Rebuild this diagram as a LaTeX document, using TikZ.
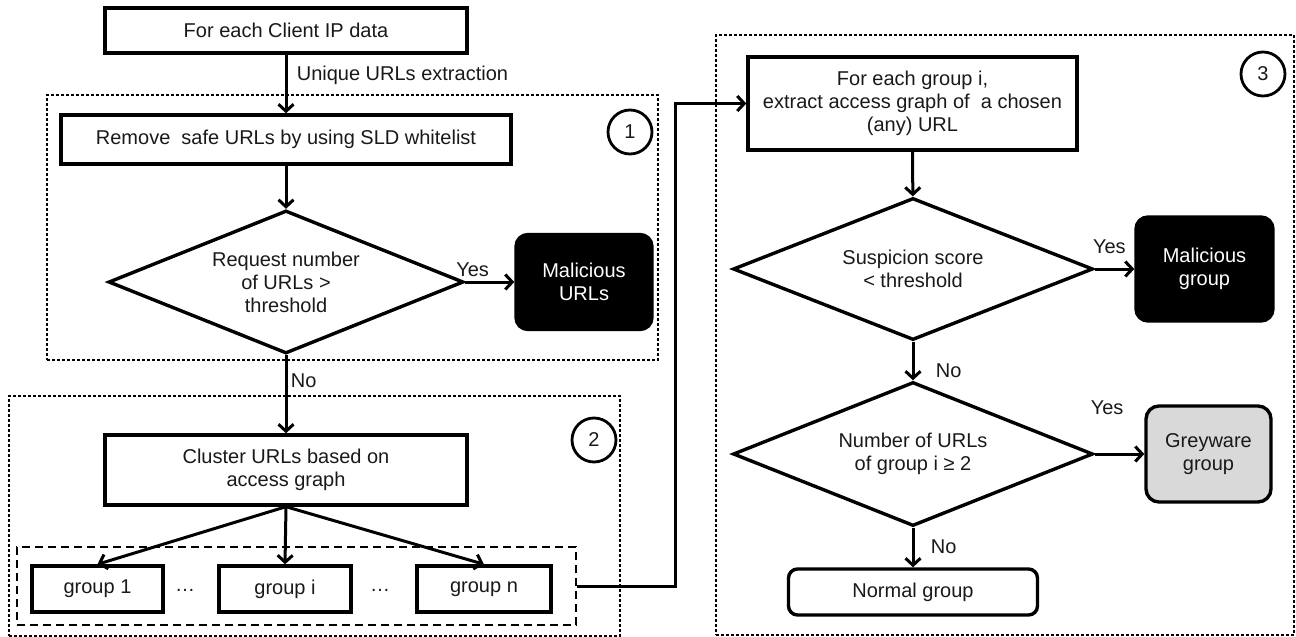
\documentclass[tikz,border=0pt]{standalone}
\usepackage{fontspec}
\setmainfont{Liberation Sans}
\usetikzlibrary{arrows.meta,shapes.geometric}

\begin{document}
\begin{tikzpicture}[x=1pt,y=-1pt,
  >={Straight Barb[length=7pt,width=15pt]},
  font=\fontsize{20}{23}\selectfont,
  every node/.style={align=center,text=black!90},
  proc/.style={draw,line width=3.4pt,inner sep=0pt},
  decision/.style={diamond,aspect=2.5,draw,line width=3.4pt,inner sep=0pt},
  badend/.style={draw,fill=black,text=white,rounded corners=12pt,line width=3.4pt,inner sep=0pt},
  greyend/.style={draw,fill=black!15,rounded corners=13pt,line width=3.4pt,inner sep=0pt},
  okend/.style={draw,rounded corners=9pt,line width=3.4pt,inner sep=0pt},
  region/.style={draw,line width=1.1pt,dash pattern=on 3pt off 2pt,inner sep=0pt},
  setbox/.style={draw,line width=2.4pt,dash pattern=on 8pt off 5pt,inner sep=0pt},
  stagenum/.style={circle,draw,line width=2.8pt,minimum size=44pt,inner sep=0pt},
  flow/.style={->,line width=3pt}]
 \useasboundingbox (0,0) rectangle (1296,637);

 % stage frames
 \node[region,minimum width=611pt,minimum height=265pt] (stage1) at (352.5,227.5) {};
 \node[region,minimum width=611pt,minimum height=240pt] (stage2) at (314.5,516) {};
 \node[region,minimum width=578pt,minimum height=600pt] (stage3) at (1005,335) {};
 \node[stagenum] (n1) at (630,132) {1};
 \node[stagenum] (n2) at (594,440) {2};
 \node[stagenum] (n3) at (1263,74) {3};

 % stages 1 and 2
 \node[proc,minimum width=362pt,minimum height=45pt] (ipdata) at (286,30.5) {For each Client IP data};
 \node[proc,minimum width=450pt,minimum height=49pt] (remove) at (286,139.5) {Remove~ safe URLs by using SLD whitelist};
 \node[decision,minimum width=355pt,minimum height=143pt] (reqnum) at (286,282) {Request number\\of URLs >\\threshold};
 \node[badend,minimum width=136pt,minimum height=95pt] (malurls) at (584,282) {Malicious\\URLs};
 \node[proc,minimum width=362pt,minimum height=70pt] (cluster) at (286,470) {Cluster URLs based on\\access graph};
 \node[setbox,minimum width=559pt,minimum height=78pt] (groups) at (296.5,586) {};
 \node[proc,minimum width=131pt,minimum height=46pt] (g1) at (97.5,589) {group 1};
 \node (dots1) at (185,590) {…};
 \node[proc,minimum width=132pt,minimum height=46pt] (gi) at (285,589) {group i};
 \node (dots2) at (380,590) {…};
 \node[proc,minimum width=134pt,minimum height=46pt] (gn) at (484,589) {group n};

 % stage 3
 \node[proc,minimum width=329pt,minimum height=93pt] (eachgrp) at (912.5,103.5) {For each group i,\\extract access graph of~ a chosen\\(any) URL};
 \node[decision,minimum width=360pt,minimum height=142pt] (susp) at (913,269) {Suspicion score\\< threshold};
 \node[badend,minimum width=137pt,minimum height=104pt] (malgrp) at (1204.5,269) {Malicious\\group};
 \node[decision,minimum width=360pt,minimum height=144pt] (numurls) at (913,454) {Number of URLs\\of group i ≥ 2};
 \node[greyend,minimum width=125pt,minimum height=96pt] (grey) at (1208.5,454) {Greyware\\group};
 \node[okend,minimum width=249pt,minimum height=46pt] (normal) at (913,592) {Normal group};
 \coordinate (turn) at (675,300);

 \path[flow] (ipdata)
 edge node [right=6pt,pos=0.35] {Unique URLs extraction} (remove)
 (remove) edge (reqnum)
 (reqnum)
 edge node [above,pos=0.15] {Yes} (malurls)
 edge node [right,pos=0.33] {No} (cluster)
 (cluster.south)
 edge (g1.north)
 edge (gi.north)
 edge (gn.north)
 (eachgrp) edge (susp)
 (susp)
 edge node [above=10pt,pos=0.37] {Yes} (malgrp)
 edge node [right=18pt,pos=0.76] {No} (numurls)
 (numurls)
 edge node [above=34pt,pos=0.25] {Yes} (grey)
 edge node [right=13pt,pos=0.47] {No} (normal);
 \draw[flow] (groups.east) -| (turn) |- (eachgrp.west);
\end{tikzpicture}
\end{document}
